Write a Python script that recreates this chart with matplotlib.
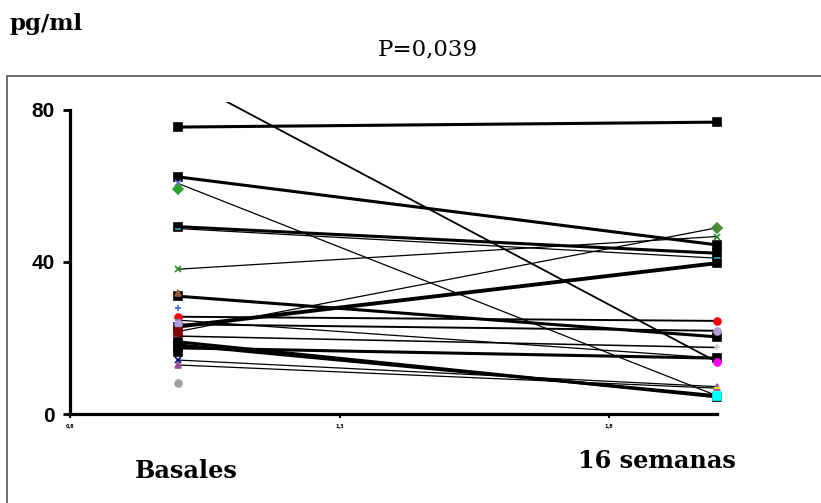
import matplotlib.pyplot as plt
from matplotlib.patches import Rectangle

# paired values: basal -> 16 weeks (pg/ml), one entry per line
basal = [89.0, 75.5, 62.4, 60.7, 49.3, 48.8, 38.1, 31.0, 25.6, 24.7, 23.6, 23.0, 21.7, 20.5, 19.0, 18.2, 17.4, 14.2, 12.9]
sem16 = [13.7, 76.8, 44.5, 4.8, 42.3, 41.0, 46.7, 20.3, 24.5, 14.7, 21.9, 39.7, 49.0, 17.5, 4.5, 4.8, 14.7, 7.2, 6.8]
widths = [1.3, 2.2, 2.2, 0.9, 2.2, 0.9, 0.9, 2.2, 1.4, 0.9, 1.4, 2.8, 0.9, 1.1, 2.2, 2.2, 2.2, 0.9, 0.9]

# markers drawn at each end
left_vals = [75.5, 62.4, 49.3, 31.0, 23.0, 19.0, 18.2, 17.4, 16.4,
             60.7, 59.2, 48.8, 38.1, 31.8, 27.8, 25.6, 24.7, 23.6, 21.7, 14.2, 12.9, 8.1]
left_mk = ['s'] * 9 + ['x', 'D', '_', 'x', '^', '+', 'o', '_', 'o', 's', 'x', '^', 'o']
left_col = ['black'] * 9 + ['#7B68EE', '#2EA02E', '#33A1B5', '#228B22', '#9C5A3C', '#4169E1',
                            'red', '#6495ED', '#B19CD9', '#800000', '#000080', '#9B4F96', '#A0A0A0']

right_vals = [76.8, 44.5, 42.3, 39.7, 20.3, 14.7, 4.5,
              49.0, 46.7, 41.0, 24.5, 21.9, 17.5, 13.7, 7.2, 6.8, 4.8]
right_mk = ['s'] * 7 + ['D', 'x', '_', 'o', 'o', '+', 'o', '^', '_', 's']
right_col = ['black'] * 7 + ['#4A8A3A', '#228B22', '#33A1B5', 'red', '#B19CD9', '#D0D0D0',
                             'magenta', '#9B4F96', 'yellow', 'cyan']

xticks = [0.8, 1.3, 1.8]
xticklabels = ['0,8', '1,3', '1,8']
yticks = [0, 40, 80]

fig = plt.figure(figsize=(8.21, 5.03), dpi=100)
W, H = 821, 503

# outer frame
fig.patches.append(Rectangle((7 / W, -0.1), 1.2, 1 - 76 / H + 0.1, transform=fig.transFigure,
                             fill=False, edgecolor='#555555', linewidth=1.2))

ax = fig.add_axes([70 / W, 1 - 414 / H, (717 - 70) / W, (414 - 102) / H])
ax.set_xlim(0.8, 2.0)
ax.set_ylim(0, 82.1)

for b, s, lw in zip(basal, sem16, widths):
    ax.plot([1, 2], [b, s], color='black', linewidth=lw, solid_capstyle='butt')

for v, m, c in zip(left_vals, left_mk, left_col):
    ms = 6 if m == 's' else 5
    ax.plot(1, v, marker=m, color=c, markersize=ms, markeredgewidth=1.2, clip_on=False, zorder=3)
for v, m, c in zip(right_vals, right_mk, right_col):
    ms = 6 if m == 's' else 5
    ax.plot(2, v, marker=m, color=c, markersize=ms, markeredgewidth=1.2, clip_on=False, zorder=3)

for sp in ['top', 'right']:
    ax.spines[sp].set_visible(False)
for sp in ['left', 'bottom']:
    ax.spines[sp].set_linewidth(2.3)
ax.spines['left'].set_bounds(0, 80)

ax.set_yticks(yticks)
ax.set_yticklabels([str(t) for t in yticks], fontsize=15, fontweight='bold', family='Liberation Sans')
ax.tick_params(axis='y', direction='out', length=5, width=2, pad=6)
ax.set_xticks(xticks)
ax.set_xticklabels(xticklabels, fontsize=3.5, fontweight='bold')
ax.tick_params(axis='x', direction='out', length=3, width=1.5, pad=4)

serif = 'DejaVu Serif'
fig.text(10 / W, 1 - 30 / H, 'pg/ml', fontsize=16.5, fontweight='bold', family=serif)
fig.text(428 / W, 1 - 55 / H, 'P=0,039', fontsize=16.5, family=serif, ha='center')
fig.text(186 / W, 1 - 478 / H, 'Basales', fontsize=17.3, fontweight='bold', family=serif, ha='center')
fig.text(657 / W, 1 - 468 / H, '16 semanas', fontsize=17.3, fontweight='bold', family=serif, ha='center')

fig.savefig('out.png', dpi=100)
